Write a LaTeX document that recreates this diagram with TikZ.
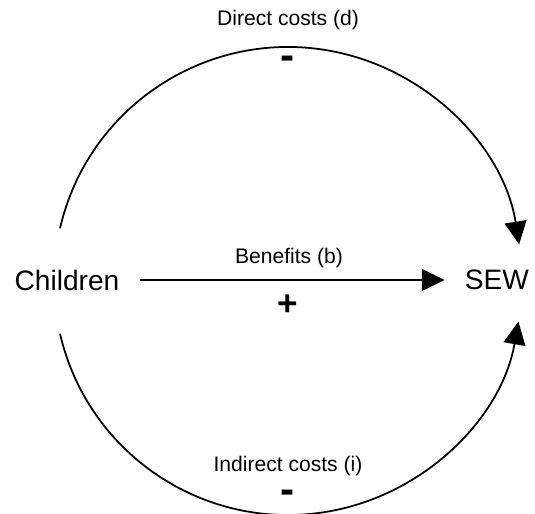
\documentclass[tikz,border=0pt]{standalone}
\usepackage{fontspec}
\setmainfont{Liberation Sans}
\usetikzlibrary{arrows.meta}

\begin{document}
\begin{tikzpicture}[x=0.02cm, y=0.02cm,  % one unit is one pixel of the page
    flow/.style={line width=1pt, -{Triangle[length=13pt, width=12.5pt]}},
    actor/.style={font=\fontsize{16}{19}\selectfont, inner xsep=0.4cm},
    tag/.style={font=\fontsize{12}{14}\selectfont, inner sep=1pt},
    sign/.style={font=\fontsize{24}{28}\selectfont\bfseries, inner sep=0pt}]

    % Fix the size of the page
    \useasboundingbox (0,0) rectangle (535,514);

    % The two ends
    \node[actor] (children) at (67,234) {Children};
    \node[actor] (sew) at (497,234) {SEW};

    % Benefits through the middle
    \draw[flow] (children) -- (sew);
    \node[tag] (benefits) at (289,256) {Benefits (b)};
    \node[sign, font=\fontsize{20}{24}\selectfont\bfseries] (plus) at (288,209) {+};

    % Costs run round the circle
    \coordinate (hub) at (288,233);
    \draw[flow] ([shift={(167:234)}]hub) arc[start angle=167, end angle=9, radius=234];
    \draw[flow] ([shift={(193:234)}]hub) arc[start angle=193, end angle=350, radius=234];

    % Labels of the costs
    \node[tag] (direct) at (288,494) {Direct costs (d)};
    \node[sign] (minustop) at (288,451) {-};
    \node[tag] (indirect) at (288,48) {Indirect costs (i)};
    \node[sign] (minusbottom) at (288,17) {-};

\end{tikzpicture}
\end{document}
